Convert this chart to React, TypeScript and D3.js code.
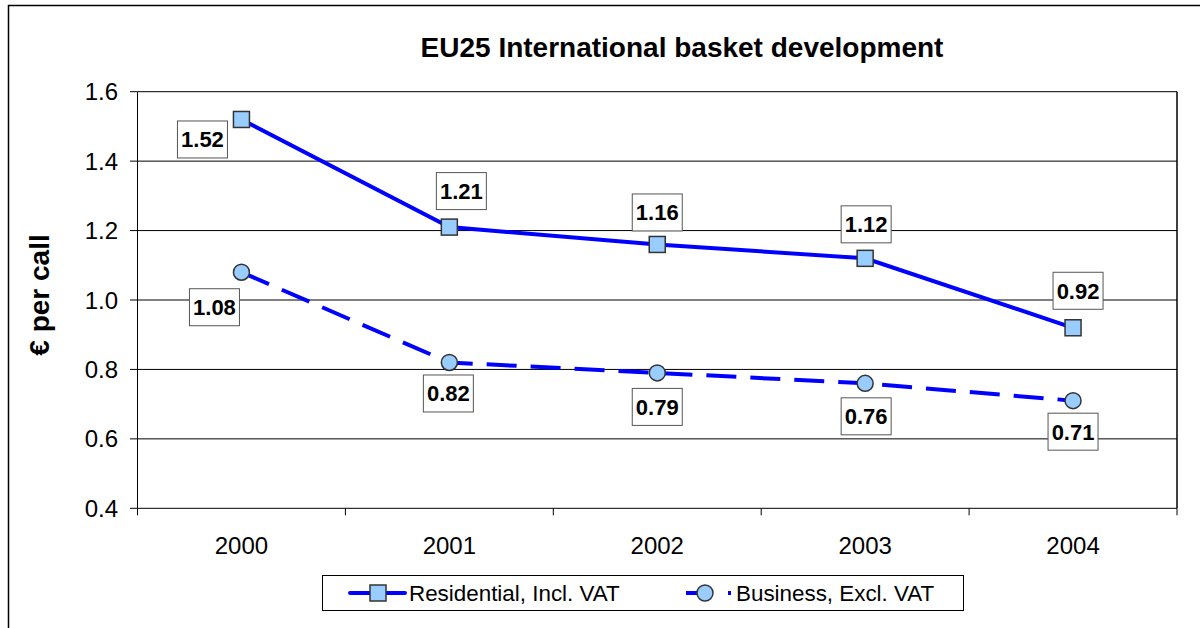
import React from "react";
import * as d3 from "d3";

const years = ["2000", "2001", "2002", "2003", "2004"];
const residential = [1.52, 1.21, 1.16, 1.12, 0.92];
const business = [1.08, 0.82, 0.79, 0.76, 0.71];
const yTicks = [0.4, 0.6, 0.8, 1.0, 1.2, 1.4, 1.6];
// label offsets relative to the point: [dx, dy]
const resLabelOffsets: [number, number][] = [[-39, 20], [12, -36], [0, -32], [1, -34], [5, -37]];
const busLabelOffsets: [number, number][] = [[-27, 35], [-1, 31], [0, 34], [1, 33], [0, 31]];

const W = 1200;
const H = 628;
const left = 137.5, right = 1177, top = 91.7, bottom = 508.3;
const FONT = "Liberation Sans, Arial, sans-serif";

export default function App() {
  const x = d3.scaleBand<string>().domain(years).range([left, right]);
  const y = d3.scaleLinear().domain([0.4, 1.6]).range([bottom, top]);
  const cx = (yr: string) => (x(yr) as number) + x.bandwidth() / 2;
  const line = d3.line<number>().x((_, i) => cx(years[i])).y((v) => y(v));
  const blue = "#0000FF";
  const markerFill = "#99CCFF";
  const markerStroke = "#333333";

  const label = (v: number, px: number, py: number, key: string) => (
    <g key={key}>
      <rect x={px - 25} y={py - 18.5} width={50} height={37} fill="#fff" stroke="#555" strokeWidth={1} />
      <text x={px} y={py + 8} textAnchor="middle" fontFamily={FONT} fontWeight="bold" fontSize={22}>
        {v.toFixed(2)}
      </text>
    </g>
  );

  return (
    <svg width={W} height={H} style={{ position: "absolute", left: 0, top: 0 }}>
      <rect x={0} y={0} width={W} height={H} fill="#fff" />
      <rect x={8.5} y={5.5} width={1200} height={640} fill="none" stroke="#000" strokeWidth={1.5} />
      <text x={682} y={57} textAnchor="middle" fontFamily={FONT} fontWeight="bold" fontSize={28}>
        EU25 International basket development
      </text>
      <text transform="translate(49,295) rotate(-90)" textAnchor="middle" fontFamily={FONT} fontWeight="bold" fontSize={28}>
        € per call
      </text>
      {/* gridlines */}
      {yTicks.map((t) => (
        <line key={"g" + t} x1={left} x2={right} y1={y(t)} y2={y(t)} stroke="#000" strokeWidth={1} />
      ))}
      <line x1={right} x2={right} y1={top} y2={bottom} stroke="#000" strokeWidth={1.5} />
      <line x1={left} x2={left} y1={top} y2={bottom} stroke="#000" strokeWidth={1} />
      {/* y ticks */}
      {yTicks.map((t) => (
        <g key={"t" + t}>
          <line x1={130} x2={left} y1={y(t)} y2={y(t)} stroke="#000" />
          <text x={118} y={y(t) + 8.5} textAnchor="end" fontFamily={FONT} fontSize={24}>
            {t.toFixed(1)}
          </text>
        </g>
      ))}
      {/* x ticks */}
      {[...years.map((yr) => x(yr) as number), right].map((xx, i) => (
        <line key={"xt" + i} x1={xx} x2={xx} y1={bottom} y2={bottom + 7} stroke="#000" />
      ))}
      {years.map((yr) => (
        <text key={"xl" + yr} x={cx(yr)} y={554} textAnchor="middle" fontFamily={FONT} fontSize={24}>
          {yr}
        </text>
      ))}
      {/* lines */}
      <path d={line(residential) as string} fill="none" stroke={blue} strokeWidth={4} />
      <path d={line(business) as string} fill="none" stroke={blue} strokeWidth={4} strokeDasharray="30,14" />
      {residential.map((v, i) => (
        <rect key={"rm" + i} x={cx(years[i]) - 8} y={y(v) - 8} width={16} height={16} fill={markerFill} stroke={markerStroke} strokeWidth={1.5} />
      ))}
      {business.map((v, i) => (
        <circle key={"bm" + i} cx={cx(years[i])} cy={y(v)} r={8} fill={markerFill} stroke={markerStroke} strokeWidth={1.5} />
      ))}
      {residential.map((v, i) => label(v, cx(years[i]) + resLabelOffsets[i][0], y(v) + resLabelOffsets[i][1], "rl" + i))}
      {business.map((v, i) => label(v, cx(years[i]) + busLabelOffsets[i][0], y(v) + busLabelOffsets[i][1], "bl" + i))}
      {/* legend */}
      <rect x={322.5} y={575.5} width={641} height={35} fill="#fff" stroke="#000" strokeWidth={1} />
      <line x1={350} x2={405} y1={593} y2={593} stroke={blue} strokeWidth={4} strokeLinecap="round" />
      <rect x={370} y={585} width={16} height={16} fill={markerFill} stroke={markerStroke} strokeWidth={1.5} />
      <text x={409} y={601} fontFamily={FONT} fontSize={22.4}>Residential, Incl. VAT</text>
      <line x1={686} x2={700} y1={593} y2={593} stroke={blue} strokeWidth={4} />
      <line x1={728} x2={731} y1={593} y2={593} stroke={blue} strokeWidth={4} />
      <circle cx={705} cy={593} r={8} fill={markerFill} stroke={markerStroke} strokeWidth={1.5} />
      <text x={736} y={601} fontFamily={FONT} fontSize={22.4}>Business, Excl. VAT</text>
    </svg>
  );
}
